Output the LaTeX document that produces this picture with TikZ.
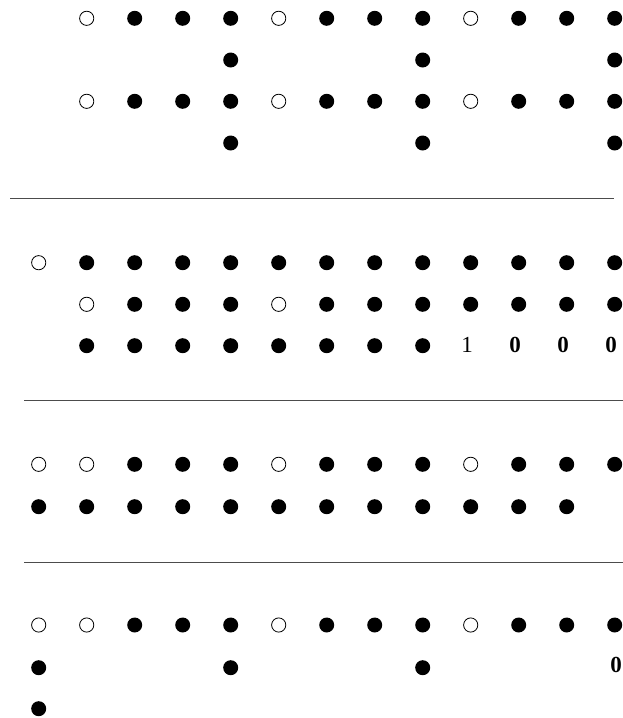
\documentclass[tikz,border=0pt]{standalone}
\usepackage{fontspec}
\setmainfont{Liberation Serif}
\begin{document}
\begin{tikzpicture}[x=1pt,y=-1pt,
  full/.style={circle,fill=black,minimum size=15pt,inner sep=0pt},
  hollow/.style={circle,draw=black,line width=0.8pt,fill=white,minimum size=14.2pt,inner sep=0pt},
  digit/.style={inner sep=0pt,font=\fontsize{23}{23}\selectfont},
  bdigit/.style={inner sep=0pt,font=\fontsize{23}{23}\selectfont\bfseries},
  rule/.style={draw=black!70,line width=1pt}]
\useasboundingbox (0,0) rectangle (623,718);
% ---------- Section 1 ----------
\foreach \y/\r in {18.3/a,101.3/c}{
  \foreach \k in {1,5,9} \node[hollow] (s1\r-\k) at ({38.7+48*\k},\y) {};
  \foreach \k in {2,3,4,6,7,8,10,11,12} \node[full] (s1\r-\k) at ({38.7+48*\k},\y) {};
}
\foreach \y/\r in {60/b,143/d}{
  \foreach \k in {4,8,12} \node[full] (s1\r-\k) at ({38.7+48*\k},\y) {};
}
\coordinate (l1a) at (10,198.3);
\coordinate (l1b) at (614,198.3);
\draw[rule] (l1a) -- (l1b);
% ---------- Section 2 ----------
\node[hollow] (s2a-0) at (38.7,262.7) {};
\foreach \k in {1,...,12} \node[full] (s2a-\k) at ({38.7+48*\k},262.7) {};
\foreach \k in {1,5} \node[hollow] (s2b-\k) at ({38.7+48*\k},304.3) {};
\foreach \k in {2,3,4,6,7,8,9,10,11,12} \node[full] (s2b-\k) at ({38.7+48*\k},304.3) {};
\foreach \k in {1,...,8} \node[full] (s2c-\k) at ({38.7+48*\k},345.7) {};
\node[digit] (s2c-9) at (467,344.5) {1};
\node[bdigit] (s2c-10) at (515,344.5) {0};
\node[bdigit] (s2c-11) at (563,344.5) {0};
\node[bdigit] (s2c-12) at (611,344.5) {0};
\coordinate (l2a) at (24,400.3);
\coordinate (l2b) at (623,400.3);
\draw[rule] (l2a) -- (l2b);
% ---------- Section 3 ----------
\foreach \k in {0,1,5,9} \node[hollow] (s3a-\k) at ({38.7+48*\k},464.3) {};
\foreach \k in {2,3,4,6,7,8,10,11,12} \node[full] (s3a-\k) at ({38.7+48*\k},464.3) {};
\foreach \k in {0,...,11} \node[full] (s3b-\k) at ({38.7+48*\k},506.7) {};
\coordinate (l3a) at (24,562.5);
\coordinate (l3b) at (623,562.5);
\draw[rule] (l3a) -- (l3b);
% ---------- Section 4 ----------
\foreach \k in {0,1,5,9} \node[hollow] (s4a-\k) at ({38.7+48*\k},625) {};
\foreach \k in {2,3,4,6,7,8,10,11,12} \node[full] (s4a-\k) at ({38.7+48*\k},625) {};
\foreach \k in {0,4,8} \node[full] (s4b-\k) at ({38.7+48*\k},667.7) {};
\node[bdigit] (s4b-12) at (616,665) {0};
\node[full] (s4c-0) at (38.7,708.7) {};
\end{tikzpicture}
\end{document}
